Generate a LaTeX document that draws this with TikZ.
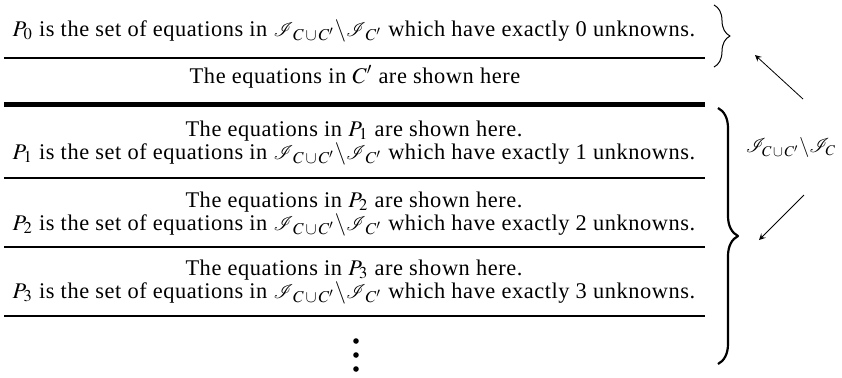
\documentclass[tikz,border=0pt]{standalone}
\usepackage{mathptmx}
\usepackage{mathrsfs}
\usepackage{graphicx}
\usepackage{fontspec}
\setmainfont{Liberation Serif}[LetterSpace=2.5]
\usetikzlibrary{decorations.pathreplacing}
\newcommand{\sI}{\mathord{\mbox{\scalebox{0.9}{$\mathscr{I}$}}}}
\newcommand{\setI}{\sI_{C\,\cup\,C'}\backslash\sI_{C'}}
\begin{document}
\begin{tikzpicture}[x=0.5pt,y=-0.5pt, font=\fontsize{11.2}{13}\selectfont, line join=round, >=stealth]
\tikzset{row/.style={anchor=base,inner sep=0pt}}
\useasboundingbox (0,0) rectangle (842,377);
\path
(4,58) coordinate (L1a) (705,58) coordinate (L1b)
(4,104.5) coordinate (L2a) (705,104.5) coordinate (L2b)
(714,5) coordinate (Ba) (714,67) coordinate (Bb)
(718,108) coordinate (Ca) (718,364) coordinate (Cb)
(803,99) coordinate (u1) (755,55) coordinate (u2)
(804,195) coordinate (d1) (759,240) coordinate (d2)
(354,36) node[row] (p0) {$P_0$ is the set of equations in $\setI$ which have exactly 0 unknowns.}
(355,83) node[row] (cp) {The equations in $C'$ are shown here}
(791,148) node[font=\fontsize{10}{11}\selectfont] (lab) {$\mathscr{I}_{C\,\cup\,C'}\backslash\mathscr{I}_C$}
;
\draw[line width=1pt] (L1a)--(L1b);
\draw[line width=2.8pt] (L2a)--(L2b);
\foreach \i/\y/\l in {1/159/178, 2/230/247, 3/298/316}{
\node[row] (s\i) at (354,\y-23) {The equations in $P_\i$ are shown here.};
\node[row] (q\i) at (354,\y) {$P_\i$ is the set of equations in $\setI$ which have exactly \i\ unknowns.};
\draw[line width=1pt] (4,\l)--(705,\l);
}
\foreach \y in {341,355,369}
\fill (356,\y) circle (2.8);
% braces
\draw[decorate,decoration={brace,amplitude=8pt},line width=0.5pt] (Ba)--(Bb);
\draw[decorate,decoration={brace,amplitude=10pt},line width=1.1pt] (Ca)--(Cb);
\draw[->] (u1)--(u2);
\draw[->] (d1)--(d2);
\end{tikzpicture}
\end{document}
